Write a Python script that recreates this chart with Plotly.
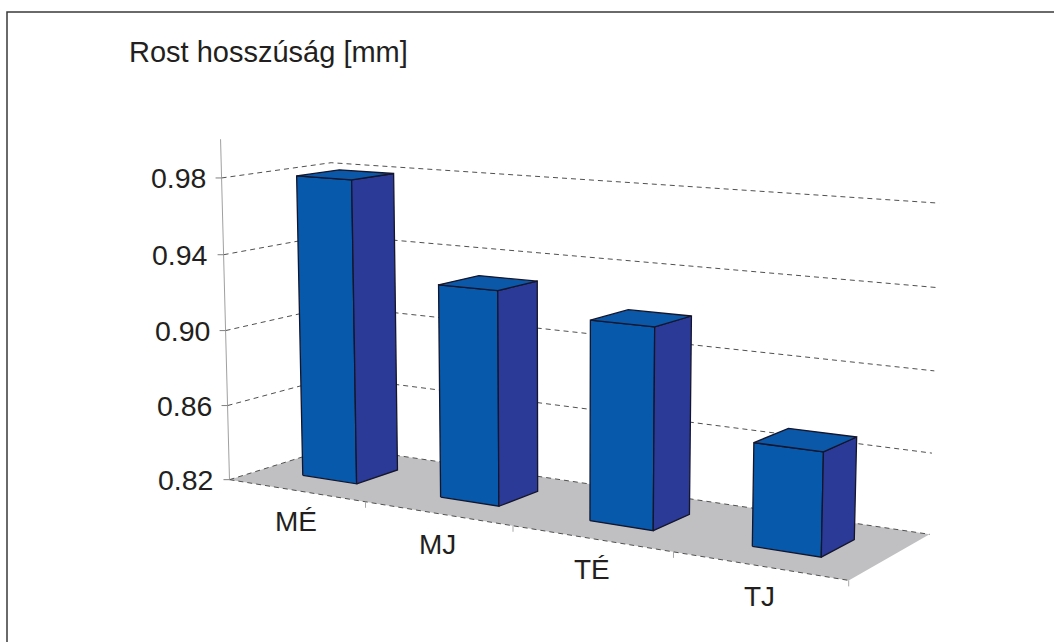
import numpy as np
import plotly.graph_objects as go

# ---- data ----
categories = ["MÉ", "MJ", "TÉ", "TJ"]
values = [0.98, 0.93, 0.92, 0.87]
tick_values = [0.82, 0.86, 0.90, 0.94, 0.98]
tick_labels = ["0.82", "0.86", "0.90", "0.94", "0.98"]
title_text = "Rost hosszúság [mm]"
y_min, y_max = 0.82, 1.00

# ---- 3-D box and perspective camera ----
WALL_H = 2.014      # world height of the value range
FLOOR_D = 1.032     # world depth of the floor
BAR_W = 0.40        # column width (per category slot of 1)
BAR_Z = (0.305, 0.70)  # column front/back, as fraction of floor depth
AZ, EL, DIST = 0.5554, 0.1742, 12.587
FOCAL, CX, CY = 2260.8, 562.9, 330.0

TEXT = "#231f20"
FONT = "Liberation Sans, Arial, sans-serif"


def make_camera():
    n = len(categories)
    target = np.array([n / 2, WALL_H / 2, FLOOR_D / 2])
    eye = target + DIST * np.array([np.sin(AZ) * np.cos(EL), np.sin(EL), -np.cos(AZ) * np.cos(EL)])
    fw = target - eye
    fw /= np.linalg.norm(fw)
    right = np.cross([0.0, 1.0, 0.0], fw)
    right /= np.linalg.norm(right)
    up = np.cross(fw, right)
    return eye, right, up, fw


EYE, RIGHT, UP, FW = make_camera()


def P(x, val, zf):
    """Project (category position, value, depth fraction) to screen coordinates."""
    world = np.array([x, (val - y_min) / (y_max - y_min) * WALL_H, zf * FLOOR_D])
    d = world - EYE
    xc, yc, zc = d @ RIGHT, d @ UP, d @ FW
    return CX + FOCAL * xc / zc, CY - FOCAL * yc / zc


fig = go.Figure()


def poly(pts, fill=None, color="rgba(0,0,0,0)", width=1.0, dash=None, closed=True):
    xs = [q[0] for q in pts]
    ys = [q[1] for q in pts]
    if closed:
        xs.append(xs[0])
        ys.append(ys[0])
    fig.add_trace(go.Scatter(
        x=xs, y=ys, mode="lines",
        fill="toself" if fill else None, fillcolor=fill,
        line=dict(color=color, width=width, dash=dash),
        hoverinfo="skip", showlegend=False))


n = len(categories)

# floor
poly([P(0, y_min, 0), P(n, y_min, 0), P(n, y_min, 1), P(0, y_min, 1)], fill="#c0c0c2")

# gridlines on side and back walls
for v in tick_values:
    poly([P(0, v, 0), P(0, v, 1), P(n, v, 1)], color="#505050", width=1, dash="5px,4px", closed=False)
poly([P(0, y_min, 0), P(n, y_min, 0)], color="#505050", width=1, dash="5px,4px", closed=False)

# value axis line
poly([P(0, y_min, 0), P(0, y_max, 0)], color="#a0a0a0", width=1, closed=False)

# category tick marks on the front edge
for k in range(1, n + 1):
    u, vv = P(k, y_min, 0)
    poly([(u, vv), (u, vv + 6)], color="#a8a8a8", width=1, closed=False)

# columns: front, right side and top faces
EDGE = "#15152b"
z0, z1 = BAR_Z
for i, val in enumerate(values):
    xl, xr = i + 0.5 - BAR_W / 2, i + 0.5 + BAR_W / 2
    poly([P(xl, y_min, z0), P(xr, y_min, z0), P(xr, val, z0), P(xl, val, z0)],
         fill="#0759ab", color=EDGE, width=1.3)
    poly([P(xr, y_min, z0), P(xr, y_min, z1), P(xr, val, z1), P(xr, val, z0)],
         fill="#2c3a97", color=EDGE, width=1.3)
    poly([P(xl, val, z0), P(xr, val, z0), P(xr, val, z1), P(xl, val, z1)],
         fill="#0b57a8", color=EDGE, width=1.3)

# value ticks and labels
for v, lab in zip(tick_values, tick_labels):
    u, vv = P(0, v, 0)
    poly([(u - 6, vv), (u, vv)], color="#808080", width=1, closed=False)
    fig.add_annotation(x=u - 14, y=vv, text=lab, showarrow=False, xanchor="right", yanchor="middle",
                       font=dict(family=FONT, size=28.5, color=TEXT))

# category labels under the front edge
for i, c in enumerate(categories):
    u, vv = P(i + 0.5, y_min, 0)
    fig.add_annotation(x=u, y=vv + 31, text=c, showarrow=False, xanchor="center", yanchor="middle",
                       font=dict(family=FONT, size=28, color=TEXT))

fig.add_annotation(x=127, y=52, text=title_text, showarrow=False, xanchor="left", yanchor="middle",
                   font=dict(family=FONT, size=29, color=TEXT))

fig.update_layout(
    width=1054, height=642, margin=dict(l=0, r=0, t=0, b=0),
    plot_bgcolor="white", paper_bgcolor="white",
    xaxis=dict(range=[0, 1054], visible=False, fixedrange=True),
    yaxis=dict(range=[642, 0], visible=False, fixedrange=True),
)
# chart frame
fig.add_shape(type="rect", x0=7, y0=12, x1=1070, y1=660, line=dict(color="#3a3a3a", width=1.5))
fig.write_html("out.html")
